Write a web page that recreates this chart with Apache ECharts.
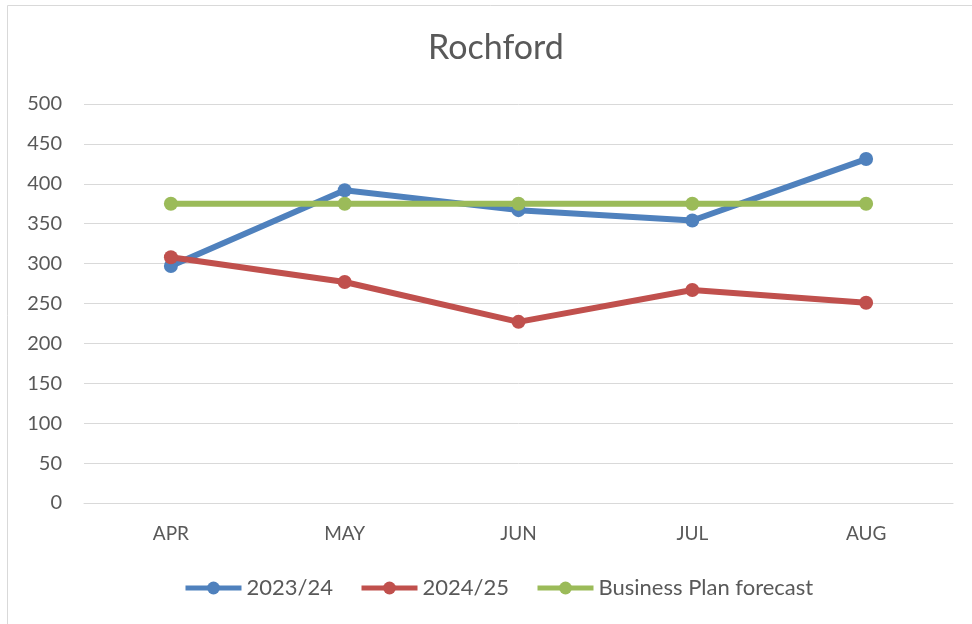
<!DOCTYPE html>
<html>
<head>
<meta charset="utf-8">
<script src="https://cdn.jsdelivr.net/npm/echarts@6/dist/echarts.min.js"></script>
<style>
  html, body { margin: 0; padding: 0; background: #fff; }
  #chart { width: 972px; height: 624px; }
</style>
</head>
<body>
<div id="chart"></div>
<script>
var months = ['APR', 'MAY', 'JUN', 'JUL', 'AUG'];
var fy2324 = [297, 392, 367, 354, 431];
var fy2425 = [308, 277, 227, 267, 251];
var forecast = [375, 375, 375, 375, 375];

var chart = echarts.init(document.getElementById('chart'));
var font = 'Lato';

function lineSeries(name, data, color) {
  return {
    name: name,
    type: 'line',
    data: data,
    symbol: 'circle',
    symbolSize: 14,
    showSymbol: true,
    itemStyle: { color: color },
    lineStyle: { color: color, width: 6 },
    emphasis: { disabled: true }
  };
}

var option = {
  animation: false,
  textStyle: { fontFamily: font },
  graphic: [{
    type: 'rect',
    shape: { x: 7.5, y: 5.5, width: 1000, height: 1000 },
    style: { fill: 'none', stroke: '#d9d9d9', lineWidth: 1 },
    silent: true
  }],
  title: {
    text: 'Rochford',
    left: 423,
    top: 26,
    textStyle: { fontFamily: font, fontSize: 34, fontWeight: 'normal', color: '#595959' }
  },
  legend: {
    bottom: 20,
    left: 178,
    itemWidth: 56,
    itemHeight: 16,
    itemGap: 26,
    lineStyle: { width: 5 },
    textStyle: { fontFamily: font, fontSize: 22, color: '#595959' },
    data: ['2023/24', '2024/25', 'Business Plan forecast']
  },
  grid: { left: 84, right: 19, top: 104, bottom: 121, containLabel: false },
  xAxis: {
    type: 'category',
    data: months,
    boundaryGap: true,
    axisLine: { lineStyle: { color: '#d9d9d9', width: 1 } },
    axisTick: { show: false },
    axisLabel: { fontFamily: font, fontSize: 19, color: '#595959', margin: 21 }
  },
  yAxis: {
    type: 'value',
    min: 0,
    max: 500,
    interval: 50,
    axisLine: { show: false },
    axisTick: { show: false },
    splitLine: { lineStyle: { color: '#d9d9d9', width: 1 } },
    axisLabel: { fontFamily: font, fontSize: 20, color: '#595959', margin: 22 }
  },
  series: [
    lineSeries('2023/24', fy2324, '#4f81bd'),
    lineSeries('2024/25', fy2425, '#c0504d'),
    lineSeries('Business Plan forecast', forecast, '#9bbb59')
  ]
};

chart.setOption(option);
window.addEventListener('resize', function () { chart.resize(); });
</script>
</body>
</html>
